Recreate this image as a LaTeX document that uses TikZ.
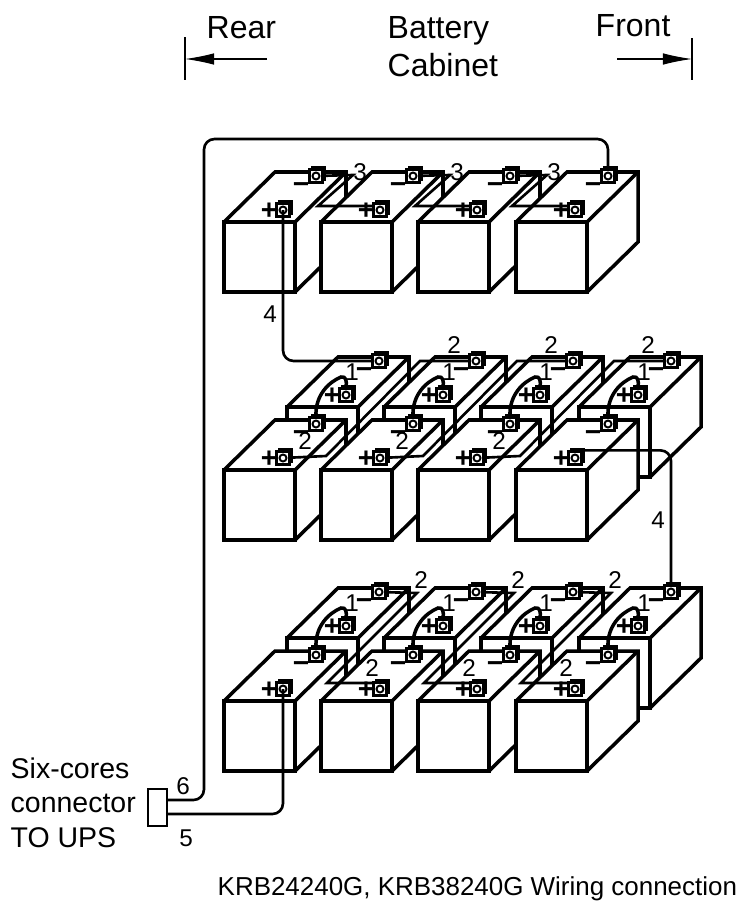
\documentclass[tikz,border=0pt]{standalone}
\usepackage{fontspec}
\setmainfont{Liberation Sans}
\usetikzlibrary{arrows.meta,shadows}

\tikzset{
    batt/.style={draw, fill=white, line width=1pt, line join=miter},
    wire/.style={line width=0.75pt},
    roundwire/.style={wire, rounded corners=3pt},
    capbar/.style={line width=0.7pt},
    termbox/.style={draw, fill=white, line width=0.65pt, inner sep=0pt, minimum size=0.13cm,
        copy shadow={shadow xshift=0.7pt, shadow yshift=0.7pt, fill=black, draw=black}},
    termhole/.style={draw, circle, line width=0.55pt, inner sep=0pt, minimum size=0.07cm},
    sign/.style={inner sep=0pt, font=\fontsize{8}{8}\selectfont\bfseries},
    num/.style={inner sep=0pt, font=\fontsize{6.9}{7}\selectfont},
    heading/.style={inner sep=0pt, font=\fontsize{9.1}{10.8}\selectfont, align=left, anchor=west},
    sidetext/.style={inner sep=0pt, font=\fontsize{8.1}{10}\selectfont, anchor=west},
    titletext/.style={inner sep=0pt, font=\fontsize{7.38}{10}\selectfont, anchor=west},
}

% name, x and y of the front face corner
\newcommand{\battery}[3]{
    \draw[batt] (#2,#3) -- ++(51,-50) -- ++(71,0) -- ++(0,70) -- ++(-51,50) -- ++(-71,0) -- cycle;
    \draw[batt] (#2,#3) rectangle ++(71,70);
    \draw[batt] (#2+71,#3) -- ++(51,-50);
    \node[termbox] (#1-p) at (#2+59,#3-12) {};
    \node[termhole] (#1-ph) at (#1-p) {};
    \node[sign] (#1-ps) at (#2+45,#3-11) {+};
    \node[termbox] (#1-n) at (#2+92,#3-46) {};
    \node[termhole] (#1-nh) at (#1-n) {};
    \node[sign] (#1-ns) at (#2+77,#3-34) {−};
}

\begin{document}
\begin{tikzpicture}[x=0.01cm, y=-0.01cm]
    \useasboundingbox (0,0) rectangle (750,906);

    \foreach \n/\x in {1/224,2/321,3/418,4/516} {
        \battery{A\n}{\x}{222}
    }
    \foreach \n/\x in {1/224,2/321,3/418,4/516} {
        \battery{B\n}{\x+63}{407}
    }
    \foreach \n/\x in {1/224,2/321,3/418,4/516} {
        \battery{C\n}{\x}{470}
    }
    \foreach \n/\x in {1/224,2/321,3/418,4/516} {
        \battery{D\n}{\x+63}{638}
    }
    \foreach \n/\x in {1/224,2/321,3/418,4/516} {
        \battery{E\n}{\x}{701}
    }

    % top row
    \foreach \a/\b/\x in {1/2/224,2/3/321,3/4/418} {
        \draw[wire] (A\a-n) -- (\x+129,175) -- (\x+94,206) -- (A\b-p.west |- 0,206);
        \node[num] (three\a) at (\x+136,172) {3};
    }
    % middle row
    \foreach \a/\b/\x in {1/2/224,2/3/321,3/4/418} {
        \draw[wire] (C\a-p) -- (\x+102,456) -- (\x+196,361) -- (B\b-n);
        \node[num] (twoa\a) at (\x+81,441) {2};
        \node[num] (twob\a) at (\x+230,345) {2};
    }
    % bottom row
    \foreach \a/\b/\x in {1/2/224,2/3/321,3/4/418} {
        \draw[wire] (D\a-n) -- (\x+193,593) -- (\x+103,683) -- (E\b-p.west |- 0,683);
        \node[num] (twoc\a) at (\x+197,580) {2};
        \node[num] (twod\a) at (\x+148,668) {2};
    }
    % short leads between rear and front
    \foreach \p/\q/\y in {B/C/0,D/E/231} {
        \foreach \n/\x in {1/224,2/321,3/418,4/516} {
            \draw[wire, line width=1pt] (\q\n-n.north) .. controls (\x+91,395+\y) and (\x+105,382+\y) .. (\x+117,377+\y) .. controls (\x+122,376+\y) and (\x+123,381+\y) .. (\p\n-p.north);
            \node[num] (one\q\n) at (\x+128,372+\y) {1};
        }
    }

    % between the rows
    \draw[roundwire] (A1-p.center) |- (B1-n);
    \node[num] (la) at (270,314) {4};
    \draw[roundwire] (C4-p.north east) -| (D4-n.north);
    \node[num] (lb) at (658,520) {4};

    % connector
    \node[draw, line width=0.65pt, inner sep=0pt, minimum width=0.19cm, minimum height=0.37cm] (c) at (157.5,807.5) {};
    \coordinate (s) at (167,800);
    \coordinate (t) at (167,814);
    \coordinate (k) at (204,139);
    \draw[roundwire] (s) -| (k) -| (A4-n.north);
    \draw[roundwire] (t) -| (E1-p.center);
    \node[num] (six) at (183,786) {6};
    \node[num] (five) at (186,838) {5};

    \node[sidetext] (ca) at (10,768) {Six-cores};
    \node[sidetext] (cb) at (10,803) {connector};
    \node[sidetext] (cc) at (10,838) {TO UPS};

    % heading
    \node[heading] (rear) at (206,28) {Rear};
    \node[heading] (cab) at (387,47) {Battery\\Cabinet};
    \node[heading] (front) at (595,26) {Front};
    \coordinate (ra) at (185,37);
    \coordinate (rb) at (185,80);
    \coordinate (rc) at (267,59);
    \coordinate (rd) at (185,59);
    \coordinate (fa) at (692,38);
    \coordinate (fb) at (692,80);
    \coordinate (fc) at (617,59);
    \coordinate (fd) at (692,59);
    \draw[capbar] (ra) -- (rb);
    \draw[capbar] (fa) -- (fb);
    \draw[capbar, line width=0.3pt, -{Latex[length=0.29cm, width=0.115cm]}] (rc) -- (rd);
    \draw[capbar, line width=0.3pt, -{Latex[length=0.29cm, width=0.115cm]}] (fc) -- (fd);

    \node[titletext] (title) at (217,889) {KRB24240G, KRB38240G Wiring connection};
\end{tikzpicture}
\end{document}
